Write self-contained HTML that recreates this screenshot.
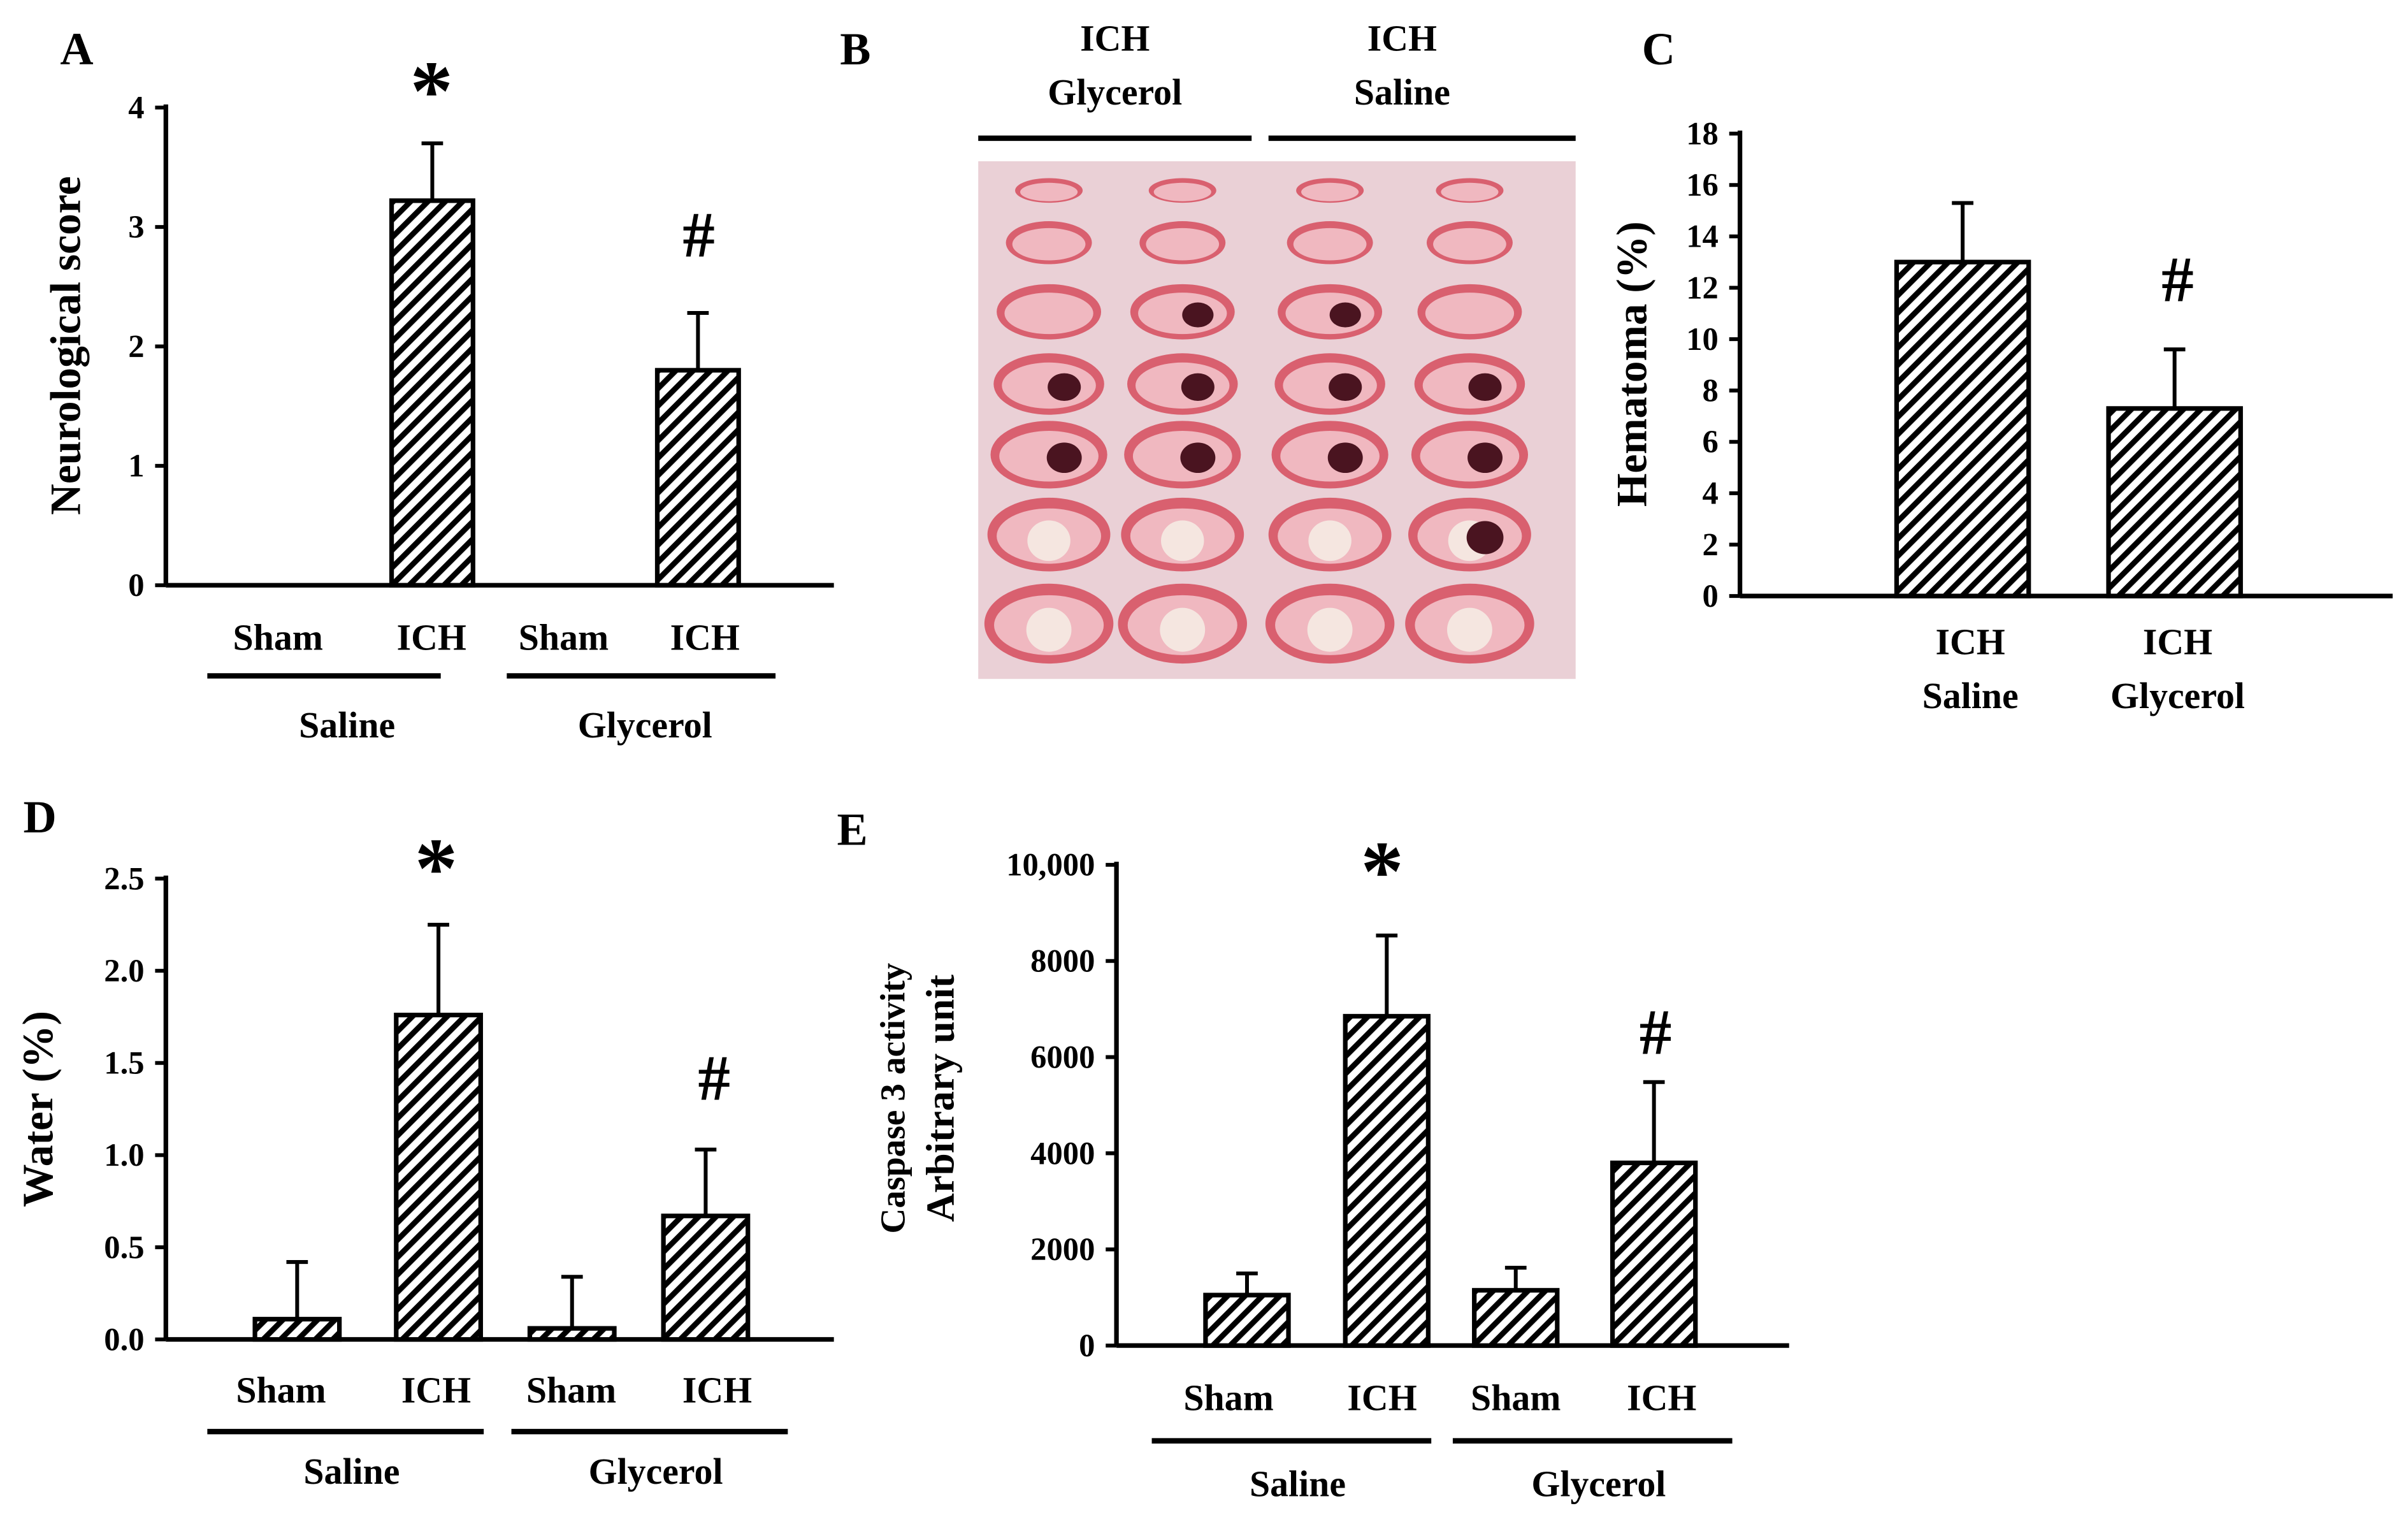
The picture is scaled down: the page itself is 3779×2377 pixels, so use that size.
<!DOCTYPE html>
<html><head><meta charset="utf-8"><style>
html,body{margin:0;padding:0;background:#fff;}
svg{display:block;}
text{font-family:"Liberation Serif",serif;font-weight:bold;fill:#000;}
</style></head><body>
<svg id="fig" width="3779" height="2377" viewBox="0 0 1568 986.3" preserveAspectRatio="none" xmlns="http://www.w3.org/2000/svg">
<defs>
<pattern id="hatch" patternUnits="userSpaceOnUse" width="8" height="8" patternTransform="rotate(45)">
<rect width="8" height="8" fill="#fff"/><rect x="0" y="0" width="3.6" height="8" fill="#000"/>
</pattern>
</defs>
<g id="root"></g>
</svg>
<script>
// Panel A
const aCats=["Sham","ICH","Sham","ICH"];
const aVals=[0,3.22,0,1.8];
const aErr=[0,0.48,0,0.48];
const aTicks=[0,1,2,3,4];
// Panel C
const cCats=["ICH Saline","ICH Glycerol"];
const cVals=[13,7.3];
const cErr=[2.3,2.3];
const cTicks=[0,2,4,6,8,10,12,14,16,18];
// Panel D
const dCats=["Sham","ICH","Sham","ICH"];
const dVals=[0.11,1.76,0.06,0.67];
const dErr=[0.31,0.49,0.28,0.36];
const dTicks=[0,0.5,1.0,1.5,2.0,2.5];
const dTickLabels=["0.0","0.5","1.0","1.5","2.0","2.5"];
// Panel E
const eCats=["Sham","ICH","Sham","ICH"];
const eVals=[1050,6850,1150,3800];
const eErr=[450,1680,470,1680];
const eTicks=[0,2000,4000,6000,8000,10000];
const eTickLabels=["0","2000","4000","6000","8000","10,000"];

const NS="http://www.w3.org/2000/svg";
const root=document.getElementById('root');
function mk(tag,attrs,parent,txt){const e=document.createElementNS(NS,tag);for(const k in attrs)e.setAttribute(k,attrs[k]);if(txt!==undefined)e.textContent=txt;(parent||root).appendChild(e);return e;}

function panel(o){
  const g=mk('g',{});
  
  
  const y=v=>o.y0-(v-o.vmin)/(o.vmax-o.vmin)*(o.y0-o.y1);
  const ax=mk('line',{x1:o.ax,y1:o.y1-2,x2:o.ax,y2:o.y0,stroke:'#000','stroke-width':3},g);
  
  const xl=mk('line',{x1:o.ax,y1:o.y0,x2:o.axEnd,y2:o.y0,stroke:'#000','stroke-width':3},g);
  
  o.ticks.forEach((t,i)=>{
    mk('line',{x1:o.ax-7,y1:y(t),x2:o.ax,y2:y(t),stroke:'#000','stroke-width':2.5},g);
    const tl=mk('text',{x:o.ax-14,y:y(t)+7,'text-anchor':'end','font-size':21},g,o.tickLabels?o.tickLabels[i]:String(t));
    
  });
  o.vals.forEach((v,i)=>{
    const x=o.barX[i],w=o.barW;
    const top=y(v+o.err[i]);
    if(o.err[i]>0){
      mk('line',{x1:x+w/2,y1:y(v),x2:x+w/2,y2:top,stroke:'#000','stroke-width':2.5},g);
      mk('line',{x1:x+w/2-7,y1:top,x2:x+w/2+7,y2:top,stroke:'#000','stroke-width':2.5},g);
    }
    if(v>0){
      const r=mk('rect',{x:x,y:y(v),width:w,height:o.y0-y(v),fill:'url(#hatch)',stroke:'#000','stroke-width':3},g);
      
    }
  });
  return g;
}
function txt(x,y,s,size,name,extra){const t=mk('text',Object.assign({x:x,y:y,'text-anchor':'middle','font-size':size},extra||{}),root,s);return t;}
function hl(x1,x2,y){const l=mk('line',{x1:x1,y1:y,x2:x2,y2:y,stroke:'#000','stroke-width':3.5});}

// A
panel({name:'panel-a',ax:108,axEnd:543,y0:381,y1:70,vmin:0,vmax:4,ticks:aTicks,vals:aVals,err:aErr,barX:[168,255,341,428],barW:53});
txt(50,42,'A',30,'panel-a-letter');
txt(52,225,'Neurological score',28,'y-axis-title',{transform:'rotate(-90 52 225)'});
[181,281,367,459].forEach((x,i)=>txt(x,423,aCats[i],24,'x-category-label'));
hl(135,287,440);hl(330,505,440);
txt(226,480,'Saline',24,'group-label');txt(420,480,'Glycerol',24,'group-label');
txt(281,78,'*',56,'significance-star');txt(455,167,'#',42,'significance-hash');

// B
txt(557,42,'B',30,'panel-b-letter');
txt(726,33,'ICH',24,'photo-label');txt(726,68,'Glycerol',24,'photo-label');
txt(913,33,'ICH',24,'photo-label');txt(913,68,'Saline',24,'photo-label');
hl(637,815,90);hl(826,1026,90);
(function(){
  const g=mk('g',{});
  mk('rect',{x:637,y:105,width:389,height:337,fill:'#ead0d6'},g);
  const cols=[683,770,866,957],rows=[124,158,203,250,296,348,406];
  const ws=[22,28,34,36,38,40,42],hs=[8,14,18,20,22,24,26];
  const dark=[[0,0,0,0],[0,0,0,0],[0,1,1,0],[1,1,1,1],[1,1,1,1],[0,0,0,1],[0,0,0,0]];
  rows.forEach((ry,r)=>cols.forEach((cx,c)=>{
    mk('ellipse',{cx:cx,cy:ry,rx:ws[r],ry:hs[r],fill:'#d9606f'},g);
    mk('ellipse',{cx:cx,cy:ry+1,rx:ws[r]*0.85,ry:hs[r]*0.75,fill:'#f0b8c0'},g);
    if(r>=5)mk('ellipse',{cx:cx,cy:ry+4,rx:ws[r]*0.35,ry:hs[r]*0.55,fill:'#f5e6e0'},g);
    if(dark[r][c])mk('ellipse',{cx:cx+10,cy:ry+2,rx:ws[r]*0.3,ry:hs[r]*0.45,fill:'#4a1420'},g);
  }));
})();

// C
panel({name:'panel-c',ax:1133,axEnd:1558,y0:388,y1:87,vmin:0,vmax:18,ticks:cTicks,vals:cVals,err:cErr,barX:[1235,1373],barW:86});
txt(1080,42,'C',30,'panel-c-letter');
txt(1072,237,'Hematoma (%)',28,'y-axis-title',{transform:'rotate(-90 1072 237)'});
txt(1283,426,'ICH',24,'x-category-label');txt(1283,461,'Saline',24,'x-category-label');
txt(1418,426,'ICH',24,'x-category-label');txt(1418,461,'Glycerol',24,'x-category-label');
txt(1418,196,'#',42,'significance-hash');

// D
panel({name:'panel-d',ax:108,axEnd:543,y0:872,y1:572,vmin:0,vmax:2.5,ticks:dTicks,tickLabels:dTickLabels,vals:dVals,err:dErr,barX:[166,258,345,432],barW:55});
txt(26,542,'D',30,'panel-d-letter');
txt(34,722,'Water (%)',28,'y-axis-title',{transform:'rotate(-90 34 722)'});
[183,284,372,467].forEach((x,i)=>txt(x,913,dCats[i],24,'x-category-label'));
hl(135,315,932);hl(333,513,932);
txt(229,966,'Saline',24,'group-label');txt(427,966,'Glycerol',24,'group-label');
txt(284,584,'*',56,'significance-star');txt(465,716,'#',42,'significance-hash');

// E
panel({name:'panel-e',ax:727,axEnd:1165,y0:876,y1:563,vmin:0,vmax:10000,ticks:eTicks,tickLabels:eTickLabels,vals:eVals,err:eErr,barX:[785,876,960,1050],barW:54});
txt(555,550,'E',30,'panel-e-letter');
txt(589,715,'Caspase 3 activity',23,'y-axis-title',{transform:'rotate(-90 589 715)'});
txt(621,715,'Arbitrary unit',26,'y-axis-title',{transform:'rotate(-90 621 715)'});
[800,900,987,1082].forEach((x,i)=>txt(x,918,eCats[i],24,'x-category-label'));
hl(750,932,938);hl(946,1128,938);
txt(845,974,'Saline',24,'group-label');txt(1041,974,'Glycerol',24,'group-label');
txt(900,586,'*',56,'significance-star');txt(1078,686,'#',42,'significance-hash');
</script>
</body></html>
